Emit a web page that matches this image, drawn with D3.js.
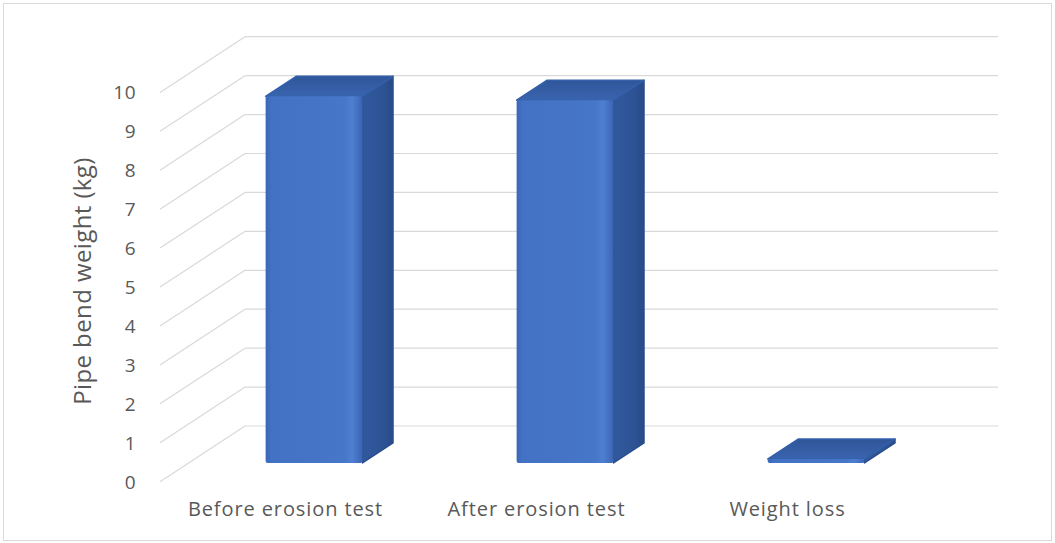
<!DOCTYPE html>
<html>
<head>
<meta charset="utf-8">
<script src="https://cdn.jsdelivr.net/npm/d3@7"></script>
<style>
  html, body { margin: 0; padding: 0; background: #fff; }
  svg { display: block; }
  text { font-family: "Open Sans", "DejaVu Sans", sans-serif; fill: #595959; }
</style>
</head>
<body>
<svg id="chart" width="1055" height="543"></svg>
<script>
// Chart data
const categories = ["Before erosion test", "After erosion test", "Weight loss"];
const weights = [9.42, 9.32, 0.10];
const yTicks = [0, 1, 2, 3, 4, 5, 6, 7, 8, 9, 10];
const yTitle = "Pipe bend weight (kg)";

const svg = d3.select("#chart");
const W = 1055, H = 543;

// Back wall of the 3D plot area and the floor depth vector (back -> front)
const wall = { left: 245, right: 998, bottom: 426, top: 36.7 };
const DX = -85, DY = 55.7;

const x = d3.scaleBand()
  .domain(categories)
  .range([wall.left, wall.right])
  .paddingInner(0.614)
  .paddingOuter(0.307);

const y = d3.scaleLinear().domain([0, 10]).range([wall.bottom, wall.top]);

// project a point: horizontal position on back wall, value, depth (0 = back, 1 = front)
const P = (px, v, f) => [px + f * DX, y(v) + f * DY];

// outer chart border
svg.append("rect")
  .attr("x", 3.5).attr("y", 3.5)
  .attr("width", W - 7).attr("height", H - 6)
  .attr("fill", "#fff").attr("stroke", "#d9d9d9").attr("stroke-width", 1);

// gradients
const defs = svg.append("defs");
const gradFront = defs.append("linearGradient").attr("id", "gFront").attr("x1", 0).attr("x2", 1).attr("y1", 0).attr("y2", 0);
[["0", "#3a67b8"], ["0.06", "#4371c3"], ["0.5", "#4574c6"], ["0.82", "#4777c9"], ["0.89", "#4f80d0"], ["0.95", "#4471c1"], ["1", "#3a64b1"]]
  .forEach(([o, c]) => gradFront.append("stop").attr("offset", o).attr("stop-color", c));
const gradSide = defs.append("linearGradient").attr("id", "gSide").attr("x1", 0).attr("x2", 1).attr("y1", 0).attr("y2", 0);
[["0", "#31599e"], ["0.7", "#2d5394"], ["1", "#284a86"]]
  .forEach(([o, c]) => gradSide.append("stop").attr("offset", o).attr("stop-color", c));
const gradTop = defs.append("linearGradient").attr("id", "gTop").attr("x1", 0).attr("x2", 0).attr("y1", 0).attr("y2", 1);
[["0", "#2f5699"], ["1", "#3a64b0"]]
  .forEach(([o, c]) => gradTop.append("stop").attr("offset", o).attr("stop-color", c));

// gridlines: back wall horizontals and left wall diagonals
const grid = svg.append("g").attr("stroke", "#d9d9d9").attr("stroke-width", 1.2).attr("fill", "none");
grid.selectAll("line.h").data(yTicks).join("line")
  .attr("class", "h")
  .attr("x1", wall.left).attr("x2", wall.right)
  .attr("y1", d => y(d)).attr("y2", d => y(d));
grid.selectAll("line.d").data(yTicks).join("line")
  .attr("class", "d")
  .attr("x1", wall.left).attr("y1", d => y(d))
  .attr("x2", wall.left + DX).attr("y2", d => y(d) + DY);

// y tick labels at the front edge
svg.append("g").selectAll("text").data(yTicks).join("text")
  .attr("x", wall.left + DX - 24)
  .attr("y", d => y(d) + DY)
  .attr("text-anchor", "end")
  .attr("dominant-baseline", "central")
  .attr("font-size", 19)
  .attr("letter-spacing", 0.5)
  .text(d => d);

// y axis title
svg.append("text")
  .attr("transform", `translate(81,281) rotate(-90)`)
  .attr("text-anchor", "middle")
  .attr("dominant-baseline", "central")
  .attr("font-size", 24)
  .attr("letter-spacing", 0.4)
  .attr("fill", "#666")
  .text(yTitle);

// category labels under the front edge
svg.append("g").selectAll("text").data(categories).join("text")
  .attr("x", d => x(d) + x.bandwidth() / 2 + DX)
  .attr("y", 508)
  .attr("text-anchor", "middle")
  .attr("dominant-baseline", "central")
  .attr("font-size", 20)
  .attr("letter-spacing", 0.9)
  .text(d => d);

// 3D bars
const fBack = 0.305, fFront = 0.664;
const poly = pts => "M" + pts.map(p => p.join(",")).join("L") + "Z";
const bars = svg.append("g").selectAll("g").data(categories.map((c, i) => ({ c, v: weights[i] }))).join("g")
  .attr("stroke-linejoin", "round");

bars.each(function(d) {
  const g = d3.select(this);
  const x0 = x(d.c), x1 = x(d.c) + x.bandwidth();
  // right side face
  g.append("path")
    .attr("d", poly([P(x1, 0, fFront), P(x1, 0, fBack), P(x1, d.v, fBack), P(x1, d.v, fFront)]))
    .attr("fill", "url(#gSide)").attr("stroke", "#2b4f8e").attr("stroke-width", 1.5);
  // top face
  g.append("path")
    .attr("d", poly([P(x0, d.v, fFront), P(x0, d.v, fBack), P(x1, d.v, fBack), P(x1, d.v, fFront)]))
    .attr("fill", "url(#gTop)").attr("stroke", "#3460aa").attr("stroke-width", 1.5);
  // front face
  const a = P(x0, d.v, fFront), b = P(x1, 0, fFront);
  g.append("rect")
    .attr("x", a[0]).attr("y", a[1])
    .attr("width", b[0] - a[0]).attr("height", Math.max(b[1] - a[1], 0.5))
    .attr("rx", 2)
    .attr("fill", "url(#gFront)");
});
</script>
</body>
</html>
